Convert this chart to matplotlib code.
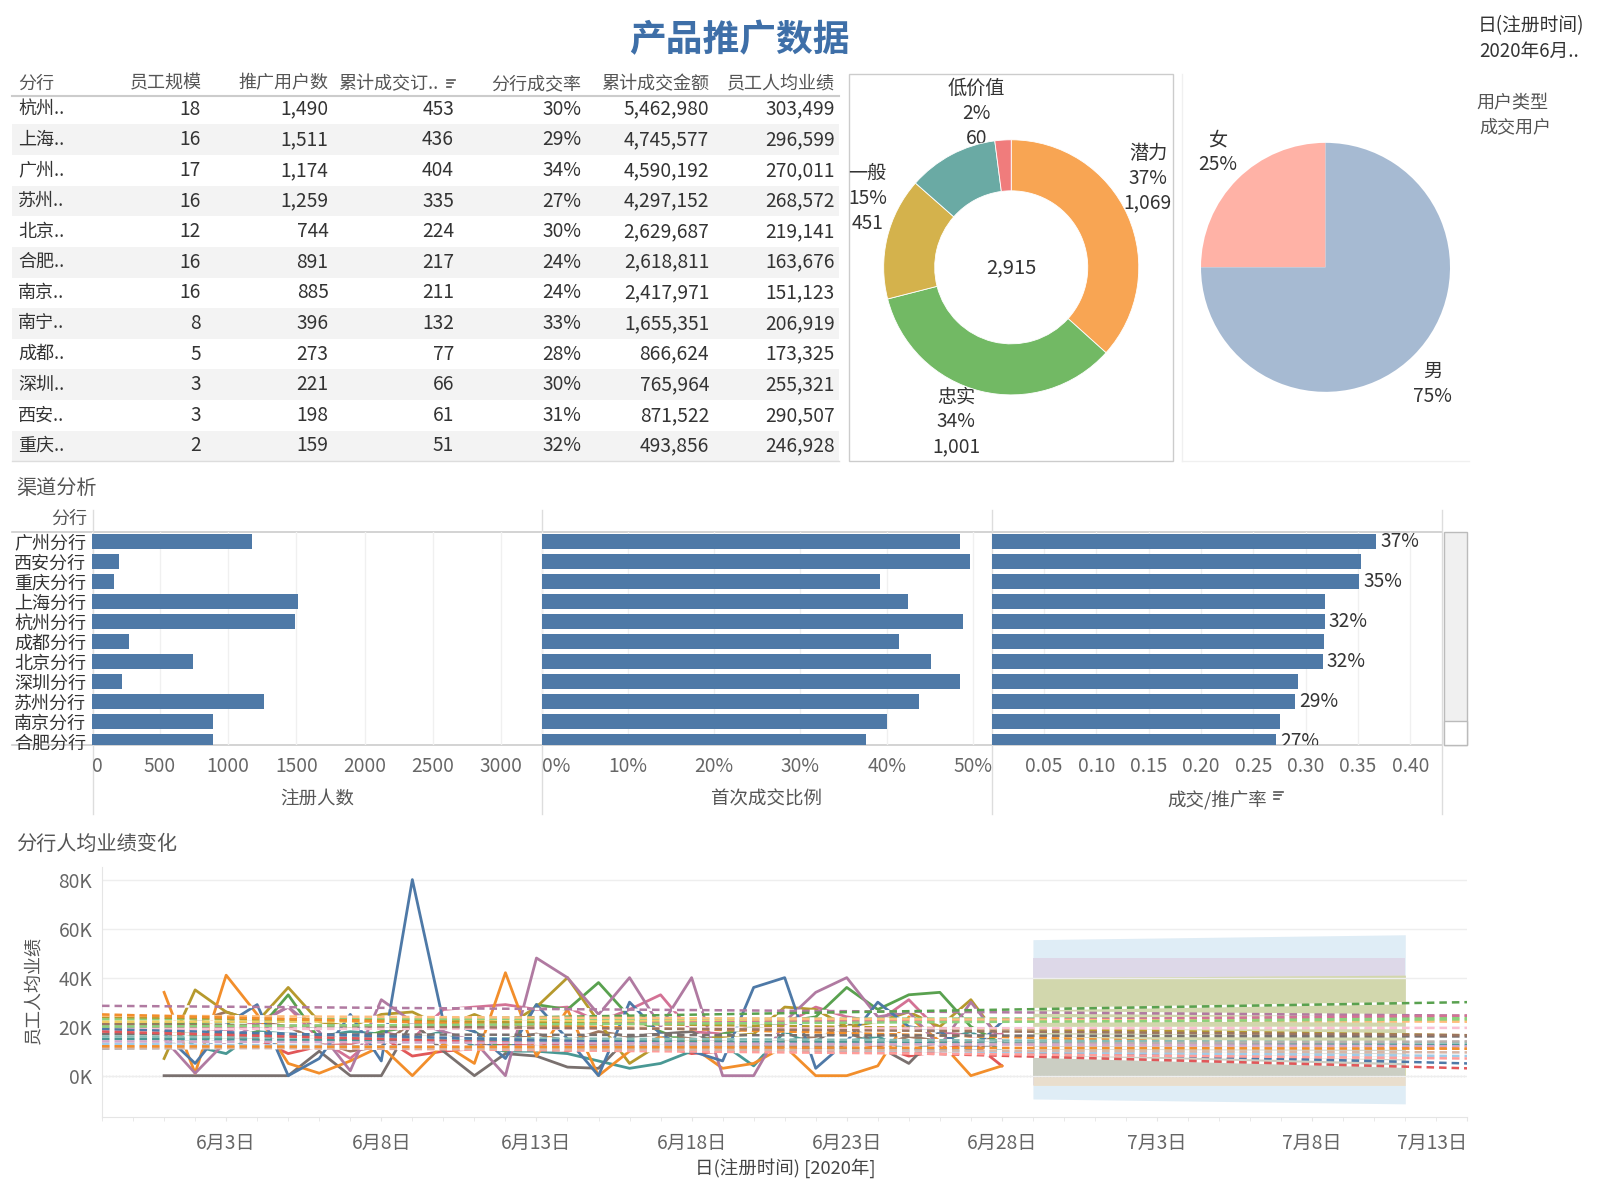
import matplotlib
matplotlib.use("Agg")
import matplotlib.pyplot as plt
from matplotlib.patches import Rectangle
import numpy as np

plt.rcParams["font.family"] = ["Noto Sans CJK SC", "DejaVu Sans"]

# ---------------- data ----------------
table_headers = ["分行", "员工规模", "推广用户数", "累计成交订..", "分行成交率", "累计成交金额", "员工人均业绩"]
branches_short = ["杭州..", "上海..", "广州..", "苏州..", "北京..", "合肥..", "南京..", "南宁..", "成都..", "深圳..", "西安..", "重庆.."]
staff = [18, 16, 17, 16, 12, 16, 16, 8, 5, 3, 3, 2]
promo_users = [1490, 1511, 1174, 1259, 744, 891, 885, 396, 273, 221, 198, 159]
orders = [453, 436, 404, 335, 224, 217, 211, 132, 77, 66, 61, 51]
deal_rate = [0.30, 0.29, 0.34, 0.27, 0.30, 0.24, 0.24, 0.33, 0.28, 0.30, 0.31, 0.32]
amount = [5462980, 4745577, 4590192, 4297152, 2629687, 2618811, 2417971, 1655351, 866624, 765964, 871522, 493856]
per_staff = [303499, 296599, 270011, 268572, 219141, 163676, 151123, 206919, 173325, 255321, 290507, 246928]

seg_labels = ["潜力", "忠实", "一般", "", "低价值"]
seg_values = [1069, 1001, 451, 334, 60]
seg_colors = ["#f8a553", "#72b964", "#d4b24c", "#6aaaa4", "#f07c7c"]

gender_labels = ["女", "男"]
gender_share = [25, 75]
gender_colors = ["#ffb2a6", "#a6bad2"]

channel_branches = ["广州分行", "西安分行", "重庆分行", "上海分行", "杭州分行", "成都分行",
                    "北京分行", "深圳分行", "苏州分行", "南京分行", "合肥分行"]
reg_users = [1174, 198, 159, 1511, 1490, 273, 744, 221, 1259, 885, 891]
first_deal_ratio = [0.485, 0.497, 0.392, 0.425, 0.489, 0.414, 0.451, 0.485, 0.438, 0.400, 0.376]
deal_promo_rate = [0.367, 0.353, 0.351, 0.318, 0.318, 0.317, 0.316, 0.293, 0.290, 0.275, 0.272]

reg_ticks = [0, 500, 1000, 1500, 2000, 2500, 3000]
ratio_ticks = [0, 0.1, 0.2, 0.3, 0.4, 0.5]
rate_ticks = [0.05, 0.10, 0.15, 0.20, 0.25, 0.30, 0.35, 0.40]

# daily per-staff performance, June 1..28 (thousands)
days = list(range(1, 29))
s_blue = [17, 5, 21, 29, 0, 7, 25, 6, 80, 22, 18, 7, 29, 15, 0, 30, 17, 10, 6, 36, 40, 3, 14, 30, 20, 18, 10, 22]
s_purple = [15, 1, 14, 21, 28, 18, 2, 31, 22, 18, 14, 0, 48, 40, 25, 40, 20, 40, 0, 0, 22, 34, 40, 24, 26, 12, 30, 14]
s_orange = [34, 1, 41, 25, 5, 1, 6, 12, 0, 13, 5, 42, 8, 27, 0, 10, 16, 12, 3, 5, 12, 0, 0, 4, 24, 14, 0, 4]
s_olive = [7, 35, 26, 22, 36, 22, 20, 25, 26, 20, 25, 20, 28, 40, 22, 5, 13, 14, 16, 17, 28, 27, 20, 22, 26, 20, 31, 14]
s_gray = [0, 0, 0, 0, 0, 10, 0, 0, 22, 10, 0, 9, 8, 3.5, 3, 16, 17, 18, 12, 13, 12, 14, 22, 12, 5, 18, 10, 14]
s_green = [20, 16, 15, 18, 33, 15, 14, 18, 20, 22, 18, 10, 29, 27, 38, 24, 18, 13, 17, 20, 22, 24, 36, 27, 33, 34, 20, 13]
s_pink = [15, 20, 18, 22, 28, 15, 7, 18, 15, 27, 28, 29, 27, 28, 22, 27, 33, 18, 17, 20, 21, 28, 24, 22, 31, 18, 16, 17]
s_teal = [21, 12, 9, 18, 17, 16, 18, 17, 15, 18, 12, 10, 10, 9, 6, 3, 5, 10, 13, 4, 18, 12, 14, 16, 10, 14, 18, 10]
s_red = [18, 17, 16, 15, 9, 12, 13, 16, 8, 10, 11, 13, 12, 10, 14, 11, 12, 9, 10, 13, 12, 11, 10, 12, 8, 10, 14, 4]
s_brown = [20, 22, 26, 22, 20, 14, 10, 12, 22, 10, 12, 15, 17, 14, 18, 16, 17, 15, 14, 12, 14, 16, 18, 12, 16, 14, 12, 17]
series = [(s_brown, "#9d7660"), (s_red, "#e15759"), (s_teal, "#499894"), (s_pink, "#d37295"),
          (s_green, "#59a14f"), (s_gray, "#79706e"), (s_olive, "#b6992d"), (s_orange, "#f28e2b"),
          (s_purple, "#b07aa1"), (s_blue, "#4e79a7")]

# trend lines (thousands) at the left and right edge of the axis
trend_x = [-1, 43]
trend_start = [28.5, 21, 23, 22, 19.5, 24, 24.5, 25, 19, 17, 21, 15, 16, 19, 18, 13, 12, 11, 14, 11.5, 12, 20]
trend_end = [24.5, 30, 23.5, 22.5, 24.5, 16.5, 22, 11, 19.5, 16, 16.5, 12.5, 13.5, 5, 3, 8, 7, 14, 12, 9.5, 11, 23]
trend_colors = ["#b07aa1", "#59a14f", "#8cd17d", "#f1ce63", "#d37295", "#b6992d", "#ffbe7d", "#f28e2b",
                "#fabfd2", "#79706e", "#9d7660", "#499894", "#86bcb6", "#4e79a7", "#e15759", "#a0cbe8",
                "#ff9d9a", "#bab0ac", "#d4a6c8", "#d7b5a6", "#f28e2b", "#8cd17d"]

# forecast bands (thousands) from June 29 to July 11, widest first
band_x = [29, 41]
band_lo = [(-9.5, -11.5), (-4, -4), (-4, -4), (0, 0), (0, 0)]
band_hi = [(55.5, 57.5), (48, 48), (40, 41), (40, 41), (14, 14)]
band_colors = ["#dcebf5", "#ddd6e7", "#ebdfcb", "#d0d7aa", "#cbcec6"]

line_ticks = [3, 8, 13, 18, 23, 28, 33, 38, 43]
line_ticklabels = ["6月3日", "6月8日", "6月13日", "6月18日", "6月23日", "6月28日", "7月3日", "7月8日", "7月13日"]
y_ticks = [0, 20000, 40000, 60000, 80000]
y_ticklabels = ["0K", "20K", "40K", "60K", "80K"]

# ---------------- layout helpers ----------------
W, H = 1568, 1176
TXT = "#333333"
GRAY = "#666666"
HEAD = "#555555"
BAR = "#4e79a7"
CJK = 13
NUM = 13.8


def box(x0, y0, x1, y1):
    return [x0 / W, 1 - y1 / H, (x1 - x0) / W, (y1 - y0) / H]


fig = plt.figure(figsize=(16, 12), dpi=100)
ov = fig.add_axes([0, 0, 1, 1])
ov.set_xlim(0, W)
ov.set_ylim(H, 0)
ov.axis("off")


def sort_icon(x, y):
    for k, ln in enumerate([8, 6, 4]):
        ov.plot([x, x + ln], [y - 4 + k * 3.5, y - 4 + k * 3.5], color=HEAD, lw=1.2)


def stacked(x, y, lines, size=NUM, step=24.5):
    for k, t in enumerate(lines):
        ov.text(x, y + k * step, t, ha="center", va="center", fontsize=size, color=TXT)


# ---------------- title & filters ----------------
ov.text(725, 40, "产品推广数据", ha="center", va="center", fontsize=26.5, fontweight="bold", color="#3e6fa8")
ov.text(1448, 25, "日(注册时间)", ha="left", va="center", fontsize=13.5, color=TXT)
ov.text(1450, 50, "2020年6月..", ha="left", va="center", fontsize=13.5, color=TXT)
ov.text(1447, 101, "用户类型", ha="left", va="center", fontsize=13, color=HEAD)
ov.text(1450, 125, "成交用户", ha="left", va="center", fontsize=13, color=HEAD)

# ---------------- table ----------------
row_y0, row_h = 107, 30
header_right = [198, 322, 430, 570, 695, 818]
cols_right = [197, 322, 445, 570, 695, 818]
ov.text(18, 82, table_headers[0], ha="left", va="center", fontsize=CJK, color=HEAD)
for x, h in zip(header_right, table_headers[1:]):
    ov.text(x, 82, h, ha="right", va="center", fontsize=CJK, color=HEAD)
sort_icon(438, 82)
ov.plot([12, 822], [94, 94], color="#cccccc", lw=1.5)
for i, name in enumerate(branches_short):
    y = row_y0 + i * row_h
    if i % 2 == 1:
        ov.add_patch(Rectangle((12, y - row_h / 2), 810, row_h, color="#f3f3f3", lw=0, zorder=0))
    ov.text(18, y, name, ha="left", va="center", fontsize=CJK, color=TXT)
    vals = [str(staff[i]), f"{promo_users[i]:,}", f"{orders[i]:,}", f"{deal_rate[i]:.0%}",
            f"{amount[i]:,}", f"{per_staff[i]:,}"]
    for x, v in zip(cols_right, vals):
        ov.text(x, y, v, ha="right", va="center", fontsize=NUM, color=TXT)
ov.plot([12, 822], [452, 452], color="#dddddd", lw=1)

# ---------------- donut ----------------
ov.add_patch(Rectangle((832, 73), 318, 379, fill=False, edgecolor="#cccccc", lw=1))
ov.plot([1158, 1158], [73, 452], color="#f0f0f0", lw=1)
ov.plot([1158, 1440], [452, 452], color="#f0f0f0", lw=1)
cx, cy, r = 991, 262, 125
dax = fig.add_axes(box(cx - r, cy - r, cx + r, cy + r))
dax.pie(seg_values, colors=seg_colors, startangle=90, counterclock=False, radius=1,
        wedgeprops=dict(width=0.4, edgecolor="white", linewidth=0.6))
dax.set_xlim(-1, 1)
dax.set_ylim(-1, 1)
dax.set_aspect("equal")
total = sum(seg_values)
dax.text(0, 0, f"{total:,}", ha="center", va="center", fontsize=14.5, color=TXT)
seg_label_pos = [(1125, 150), (937, 389), (850, 170), None, (957, 87)]
for lab, v, pos in zip(seg_labels, seg_values, seg_label_pos):
    if pos is None:
        continue
    stacked(pos[0], pos[1], [lab, f"{v / total:.0%}", f"{v:,}"])

# ---------------- gender pie ----------------
px, py, pr = 1299, 262, 122
pax = fig.add_axes(box(px - pr, py - pr, px + pr, py + pr))
pax.pie(gender_share, colors=gender_colors, startangle=90, counterclock=True, radius=1)
pax.set_xlim(-1, 1)
pax.set_ylim(-1, 1)
pax.set_aspect("equal")
gender_label_pos = [(1193, 137), (1404, 364)]
for lab, v, pos in zip(gender_labels, gender_share, gender_label_pos):
    stacked(pos[0], pos[1], [lab, f"{v}%"])

# ---------------- channel bars ----------------
ov.text(16, 479, "渠道分析", ha="left", va="center", fontsize=14.5, color=HEAD)
ov.text(85, 508, "分行", ha="right", va="center", fontsize=CJK, color=HEAD)
ov.plot([12, 1413], [521, 521], color="#cccccc", lw=1.2)
ov.plot([12, 1413], [730, 730], color="#cccccc", lw=1.2)
for x in [91, 531, 972, 1413]:
    ov.plot([x, x], [500, 798], color="#dddddd", lw=1)
ov.add_patch(Rectangle((1415, 521), 23, 209, facecolor="#f0f0f0", edgecolor="#bbbbbb", lw=1))
ov.add_patch(Rectangle((1415, 707), 23, 23, facecolor="white", edgecolor="#bbbbbb", lw=1))

ys = np.arange(len(channel_branches))
panels = [
    (box(90, 521, 531, 730), reg_users, (0, 3300), reg_ticks, [str(t) for t in reg_ticks], "注册人数"),
    (box(531, 521, 972, 730), first_deal_ratio, (0, 0.522), ratio_ticks, [f"{t:.0%}" for t in ratio_ticks], "首次成交比例"),
    (box(972, 521, 1413, 730), deal_promo_rate, (0, 0.43), rate_ticks, [f"{t:.2f}" for t in rate_ticks], "成交/推广率"),
]
bar_axes = []
for k, (rect, vals, lim, ticks, labels, title) in enumerate(panels):
    ax = fig.add_axes(rect)
    ax.set_facecolor("none")
    ax.barh(ys, vals, height=0.78, color=BAR, zorder=2)
    ax.set_ylim(10.16, -0.5)
    ax.set_xlim(*lim)
    ax.set_xticks(ticks)
    tl = ax.set_xticklabels(labels)
    if ticks[0] == 0:
        tl[0].set_ha("left")
    ax.tick_params(axis="x", length=0, pad=8, labelsize=NUM, labelcolor=GRAY)
    ax.xaxis.grid(True, color="#f0f0f0", lw=1, zorder=0)
    ax.set_xlabel(title, fontsize=13.3, color=HEAD, labelpad=10)
    for s in ax.spines.values():
        s.set_visible(False)
    if k == 0:
        ax.set_yticks(ys)
        ax.set_yticklabels(channel_branches)
        ax.tick_params(axis="y", length=0, pad=4, labelsize=CJK, labelcolor=TXT)
    else:
        ax.set_yticks([])
    bar_axes.append(ax)

for i in range(0, len(deal_promo_rate), 2):
    bar_axes[2].text(deal_promo_rate[i] + 0.004, i, f"{deal_promo_rate[i]:.0%}", ha="left", va="center",
                     fontsize=NUM, color=TXT, clip_on=True)
sort_icon(1249, 780)

# ---------------- line chart ----------------
ov.text(16, 827, "分行人均业绩变化", ha="left", va="center", fontsize=14.5, color=HEAD)
lax = fig.add_axes(box(100, 850, 1438, 1095))
lax.set_facecolor("none")
for lo, hi, c in zip(band_lo, band_hi, band_colors):
    lax.fill_between(band_x, [v * 1000 for v in lo], [v * 1000 for v in hi], color=c, alpha=0.9, lw=0, zorder=1)
for vals, c in series:
    lax.plot(days, [v * 1000 for v in vals], color=c, lw=2, zorder=2)
for a, b, c in zip(trend_start, trend_end, trend_colors):
    lax.plot(trend_x, [a * 1000, b * 1000], color=c, lw=1.8, ls=(0, (3, 2)), gapcolor="white", zorder=3)
lax.axhline(0, color="#aaaaaa", ls=":", lw=0.9, zorder=1)
lax.set_xlim(-1, 43)
lax.set_ylim(-17000, 85000)
lax.set_yticks(y_ticks)
lax.set_yticklabels(y_ticklabels)
lax.set_xticks(line_ticks)
xt = lax.set_xticklabels(line_ticklabels)
xt[-1].set_ha("right")
lax.set_xticks(range(-1, 44), minor=True)
lax.tick_params(axis="x", which="both", length=3, color="#e5e5e5", pad=8, labelsize=NUM, labelcolor=GRAY)
lax.tick_params(axis="y", length=0, pad=7, labelsize=NUM, labelcolor=GRAY)
lax.yaxis.grid(True, color="#eeeeee", lw=1, zorder=0)
for name, s in lax.spines.items():
    s.set_visible(name in ("left", "bottom"))
    s.set_color("#e5e5e5")
ov.text(33, 970, "员工人均业绩", ha="center", va="center", rotation=90, fontsize=CJK, color=HEAD)
ov.text(770, 1145, "日(注册时间) [2020年]", ha="center", va="center", fontsize=13.3, color="#444444")

fig.savefig("out.png", dpi=100)
